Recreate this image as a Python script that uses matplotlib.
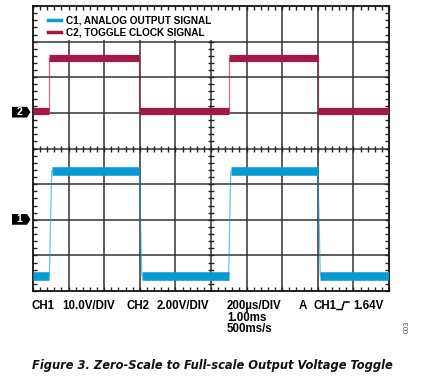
import matplotlib
matplotlib.use("Agg")
import matplotlib.pyplot as plt
import matplotlib.transforms as mtransforms
from matplotlib.patches import Polygon, Rectangle
from matplotlib.lines import Line2D
from matplotlib import font_manager
import numpy as np

# ---- data ----
# time in microseconds, 200 us/div, 10 divisions
time_per_div = 200.0
ch1_time = [0, 92, 105, 597, 611, 1099, 1111, 1601, 1614, 2000]
ch1_volts = [-15.6, -15.6, 13.8, 13.8, -15.6, -15.6, 13.8, 13.8, -15.6, -15.6]
ch1_scale = 10.0      # V/div
ch1_offset = 1.99     # ground marker position (div)

ch2_time = [0, 92, 92, 597, 597, 1100, 1100, 1601, 1601, 2000]
ch2_volts = [0.14, 0.14, 3.16, 3.16, 0.14, 0.14, 3.16, 3.16, 0.14, 0.14]
ch2_scale = 2.0       # V/div
ch2_offset = 4.97

legend_labels = ["C1, ANALOG OUTPUT SIGNAL", "C2, TOGGLE CLOCK SIGNAL"]
c1_color = "#0A9BD4"
c2_color = "#A3184C"

fig = plt.figure(figsize=(4.26, 3.82), dpi=100)
W, H = 426, 382
ax = fig.add_axes([33 / W, 1 - 291 / H, 356 / W, 285 / H])
ax.set_xlim(0, 10)
ax.set_ylim(0, 8)

# graticule
for i in range(1, 10):
    ax.axvline(i, color="#333333", lw=1.1, zorder=1)
for j in range(1, 8):
    ax.axhline(j, color="#333333", lw=1.1, zorder=1)
minor = np.arange(0, 10.01, 0.2)
ax.plot(minor, np.full_like(minor, 4), ls="none", marker="|", ms=4, mew=1.0,
        color="#222222", zorder=1.1)
minor_y = np.arange(0, 8.01, 0.2)
ax.plot(np.full_like(minor_y, 5), minor_y, ls="none", marker="_", ms=4, mew=1.0,
        color="#222222", zorder=1.1)

# white legend area
ax.add_patch(Rectangle((0, 7.04), 5.8, 0.96, facecolor="white", edgecolor="none", zorder=1.2))

ax.set_xticks(np.arange(0, 10.01, 1))
ax.set_yticks(np.arange(0, 8.01, 1))
ax.set_xticks(minor, minor=True)
ax.set_yticks(minor_y, minor=True)
ax.tick_params(which="both", direction="in", length=3, width=1.0, color="#222222",
               top=True, right=True, labelbottom=False, labelleft=False)
for s in ax.spines.values():
    s.set_linewidth(1.3)
    s.set_color("#111111")


def draw(times, volts, scale, offset, color, band_lw, label):
    x = np.array(times) / time_per_div
    y = offset + np.array(volts) / scale
    ax.plot(x, y, color=color, lw=0.9, alpha=0.6, zorder=3)
    for k in range(len(x) - 1):
        if volts[k] == volts[k + 1]:
            ax.plot(x[k:k + 2], y[k:k + 2], color=color, lw=band_lw,
                    solid_capstyle="butt", zorder=3)
    return Line2D([], [], color=color, lw=2.5, label=label)


h2 = draw(ch2_time, ch2_volts, ch2_scale, ch2_offset, c2_color, 5.2, legend_labels[1])
h1 = draw(ch1_time, ch1_volts, ch1_scale, ch1_offset, c1_color, 6.2, legend_labels[0])

leg = ax.legend(handles=[h1, h2], loc="upper left", bbox_to_anchor=(0.02, 0.995),
                frameon=False, handlelength=1.3, handletextpad=0.45,
                labelspacing=0.2, borderpad=0.3,
                prop=dict(family="Liberation Sans", weight="bold", size=7.2))

# channel markers
trans = mtransforms.blended_transform_factory(ax.transAxes, ax.transData)
for lab, off in (("1", ch1_offset + 0.02), ("2", ch2_offset + 0.05)):
    x0, x1, xt = -21 / 356, -6 / 356, -2.5 / 356
    hh = 0.15
    poly = Polygon([(x0, off - hh), (x1, off - hh), (xt, off), (x1, off + hh), (x0, off + hh)],
                   closed=True, transform=trans, facecolor="black", edgecolor="none",
                   clip_on=False)
    ax.add_patch(poly)
    ax.text((x0 + x1) / 2, off, lab, transform=trans, color="white", ha="center",
            va="center", family="Liberation Sans", weight="bold", size=7.5, clip_on=False)

# bottom readouts
fk = dict(family="Liberation Sans", weight="bold", size=8.3, va="center", ha="left")


def ftext(px, py, s, **kw):
    d = dict(fk)
    d.update(kw)
    fig.text(px / W, 1 - py / H, s, **d)


ftext(32, 306, "CH1")
ftext(62, 306, "10.0V/DIV")
ftext(127, 306, "CH2")
ftext(157, 306, "2.00V/DIV")
ftext(227, 306, "200\u00b5s/DIV")
ftext(227, 318, "1.00ms")
ftext(227, 329.5, "500ms/s")
ftext(299, 306, "A")
ftext(313, 306, "CH1")
ftext(353, 306, "1.64V")
# trigger (rising edge) symbol
fig.add_artist(Line2D(np.array([337, 342, 344, 349]) / W,
                      1 - np.array([309.5, 309.5, 302, 302]) / H,
                      color="black", lw=1.1))

fig.text(407 / W, 1 - 327 / H, "003", rotation=90, ha="center", va="center",
         family="Liberation Sans", size=5.5, color="#555555")

# caption: fit to the reference width
cap = fig.text(212 / W, 1 - 365 / H, "Figure 3. Zero-Scale to Full-scale Output Voltage Toggle",
               ha="center", va="center", family=["DejaVu Sans"], stretch="condensed",
               weight="bold", style="italic", size=12.0, color="#111111")
fig.canvas.draw()
bb = cap.get_window_extent(renderer=fig.canvas.get_renderer())
target = 360.0
if bb.width > target:
    cap.set_fontsize(12.0 * target / bb.width)

fig.savefig("out.png", dpi=100)
